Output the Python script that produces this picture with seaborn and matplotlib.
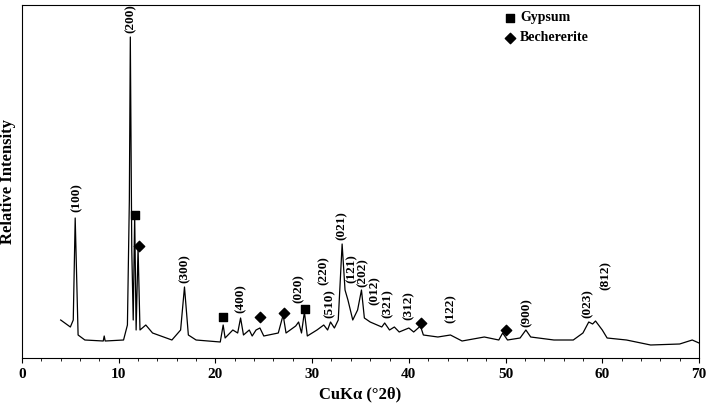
import matplotlib
matplotlib.use("Agg")
import matplotlib.pyplot as plt
import seaborn as sns
import pandas as pd

# 2theta positions and intensity (arbitrary units)
two_theta = [4, 5, 5.3, 5.5, 5.8, 6.5, 8.4, 8.5, 8.6, 10.5, 10.9, 11.1, 11.2, 11.35, 11.5, 11.65, 11.8,
             12.0, 12.2, 12.8, 13.5, 15.5, 16.4, 16.8, 17.2, 18, 20.5, 20.8, 21.0, 21.8, 22.3, 22.6,
             22.9, 23.5, 23.8, 24.2, 24.6, 25, 26.5, 27.0, 27.3, 28.3, 28.6, 28.9, 29.2, 29.5, 30.5,
             31.2, 31.6, 31.9, 32.3, 32.7, 33.1, 33.4, 33.7, 34.2, 34.7, 35.1, 35.4, 36, 37.2, 37.5,
             38, 38.5, 39, 40, 40.5, 41.2, 41.5, 43, 44.3, 45.5, 47.8, 49.3, 49.7, 50.2, 51.5, 52.1,
             52.6, 55, 57, 58, 58.6, 59.0, 59.3, 60, 60.5, 62.5, 65, 68, 69.3, 70]
pix = [320, 327, 320, 218, 335, 340, 341, 336, 341, 340, 325, 200, 37, 250, 320, 215, 330,
       248, 330, 325, 333, 340, 330, 287, 335, 340, 342, 325, 338, 330, 333, 318,
       335, 330, 336, 330, 328, 336, 333, 315, 333, 326, 322, 333, 312, 336, 330,
       325, 330, 322, 328, 320, 244, 290, 300, 320, 310, 290, 318, 322, 327, 323,
       330, 327, 332, 328, 332, 326, 335, 337, 335, 341, 337, 340, 333, 340, 338, 330,
       337, 340, 340, 333, 322, 324, 321, 330, 338, 340, 345, 344, 340, 343]
intensity = [358 - p for p in pix]

gyp_x = [11.7, 20.8, 29.3]
gyp_y = [358 - 215, 358 - 317, 358 - 309]
bec_x = [12.1, 24.6, 27.1, 41.3, 50.0]
bec_y = [358 - 246, 358 - 317, 358 - 313, 358 - 323, 358 - 330]

hkl_labels = ["(100)", "(200)", "(300)", "(400)", "(020)", "(220)", "(510)", "(021)", "(121)",
              "(202)", "(012)", "(321)", "(312)", "(122)", "(900)", "(023)", "(812)"]
hkl_x = [5.6, 11.2, 16.8, 22.6, 28.6, 31.2, 31.8, 33.1, 34.1, 35.2, 36.5, 37.8, 40.0, 44.3, 52.2, 58.5, 60.3]
hkl_y = [358 - p for p in [212, 33, 283, 313, 303, 285, 318, 240, 283, 287, 305, 318, 320, 323, 327, 318, 290]]

plt.rcParams["font.family"] = "Liberation Serif"
plt.rcParams["font.weight"] = "bold"
fig = plt.figure(figsize=(7.11, 4.03), dpi=100)
ax = fig.add_axes([22/711, 1 - 358/403, (699 - 22)/711, (358 - 5)/403])
sns.lineplot(data=pd.DataFrame({"x": two_theta, "y": intensity}), x="x", y="y", ax=ax,
             color="black", linewidth=0.9)
ax.scatter(gyp_x, gyp_y, marker="s", s=30, color="black", zorder=3)
ax.scatter(bec_x, bec_y, marker="D", s=28, color="black", zorder=3)
for t, x, y in zip(hkl_labels, hkl_x, hkl_y):
    ax.text(x, y, t, rotation=90, ha="center", va="bottom", fontsize=9.5, fontweight="bold")

ax.scatter([50.5], [358 - 18], marker="s", s=30, color="black")
ax.text(51.5, 358 - 18, "Gypsum", va="center", fontsize=10, fontweight="bold")
ax.scatter([50.5], [358 - 38], marker="D", s=28, color="black")
ax.text(51.5, 358 - 38, "Bechererite", va="center", fontsize=10, fontweight="bold")

ax.set_xlim(0, 70)
ax.set_ylim(0, 353)
ax.set_xticks(range(0, 71, 10))
ax.set_xticks(range(0, 71, 2), minor=True)
ax.set_yticks([])
ax.tick_params(axis="x", labelsize=11, direction="out")
for lab in ax.get_xticklabels():
    lab.set_fontweight("bold")
ax.set_xlabel("CuKα (°2θ)", fontsize=12, fontweight="bold", labelpad=4)
ax.set_ylabel("Relative Intensity", fontsize=12, fontweight="bold", labelpad=4)
fig.savefig("out.png", dpi=100)
